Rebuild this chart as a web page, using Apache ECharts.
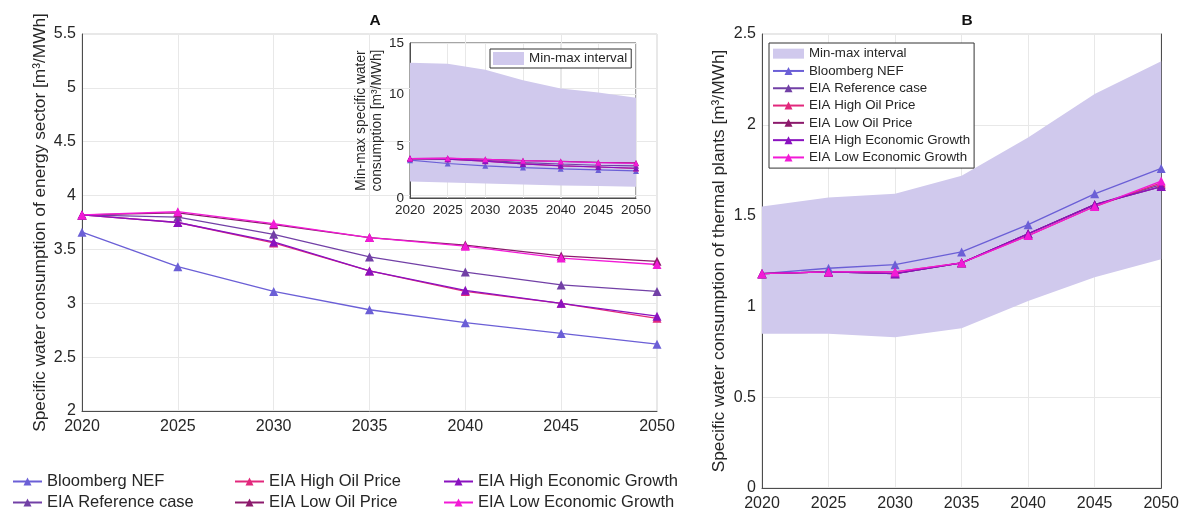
<!DOCTYPE html>
<html>
<head>
<meta charset="utf-8">
<script src="https://cdn.jsdelivr.net/npm/echarts@6/dist/echarts.min.js"></script>
<style>
  html, body { margin: 0; padding: 0; background: #fff; }
  #chart { width: 1182px; height: 515px; }
</style>
</head>
<body>
<div id="chart"></div>
<script>
// Projection years shared by every panel
const years = ['2020', '2025', '2030', '2035', '2040', '2045', '2050'];

// Panel A: specific water consumption of the energy sector [m3/MWh]
const energyBloomberg = [3.66, 3.34, 3.11, 2.94, 2.82, 2.72, 2.62];
const energyReference = [3.82, 3.80, 3.64, 3.43, 3.29, 3.17, 3.11];
const energyHighOil   = [3.82, 3.75, 3.56, 3.30, 3.11, 3.00, 2.86];
const energyLowOil    = [3.82, 3.84, 3.73, 3.61, 3.54, 3.44, 3.39];
const energyHighGrowth = [3.82, 3.75, 3.57, 3.30, 3.12, 3.00, 2.88];
const energyLowGrowth  = [3.82, 3.85, 3.74, 3.61, 3.53, 3.42, 3.36];
// Panel A inset: min-max interval of the energy sector
const energyMin = [1.6, 1.5, 1.4, 1.3, 1.2, 1.15, 1.1];
const energyMax = [13.1, 13.0, 12.4, 11.4, 10.6, 10.2, 9.7];

// Panel B: specific water consumption of thermal plants [m3/MWh]
const thermalBloomberg = [1.18, 1.21, 1.23, 1.30, 1.45, 1.62, 1.76];
const thermalReference = [1.18, 1.19, 1.18, 1.24, 1.40, 1.56, 1.67];
const thermalHighOil   = [1.18, 1.19, 1.19, 1.24, 1.39, 1.55, 1.68];
const thermalLowOil    = [1.18, 1.19, 1.18, 1.24, 1.40, 1.56, 1.66];
const thermalHighGrowth = [1.18, 1.19, 1.18, 1.24, 1.40, 1.56, 1.66];
const thermalLowGrowth  = [1.18, 1.19, 1.19, 1.24, 1.39, 1.55, 1.69];
const thermalMin = [0.85, 0.85, 0.83, 0.88, 1.03, 1.16, 1.26];
const thermalMax = [1.55, 1.60, 1.62, 1.72, 1.93, 2.17, 2.35];

// Axis ticks
const energyTicks = { min: 2, max: 5.5, interval: 0.5 };
const insetTicks = { min: 0, max: 15, interval: 5 };
const thermalTicks = { min: 0, max: 2.5, interval: 0.5 };

const scenarioNames = [
  'Bloomberg NEF', 'EIA Reference case', 'EIA High Oil Price',
  'EIA Low Oil Price', 'EIA High Economic Growth', 'EIA Low Economic Growth'
];
const scenarioColors = ['#6b5fd6', '#7240a6', '#e2287c', '#8c1a6c', '#8a12bf', '#f21ad6'];
const bandName = 'Min-max interval';
const bandColor = '#d0c9ed';

const energySets = [energyBloomberg, energyReference, energyHighOil, energyLowOil, energyHighGrowth, energyLowGrowth];
const thermalSets = [thermalBloomberg, thermalReference, thermalHighOil, thermalLowOil, thermalHighGrowth, thermalLowGrowth];

const FONT = 'Liberation Sans, Arial, sans-serif';
const TXT = '#262626';
const AXIS_DARK = '#4d4d4d';
const GRID_LIGHT = '#e8e8e8';

function scenarioLines(sets, gridIdx, symbolSize, width) {
  return sets.map((data, i) => ({
    type: 'line',
    name: scenarioNames[i],
    xAxisIndex: gridIdx,
    yAxisIndex: gridIdx,
    data: data,
    symbol: 'triangle',
    symbolSize: symbolSize,
    color: scenarioColors[i],
    lineStyle: { width: width, color: scenarioColors[i] },
    itemStyle: { color: scenarioColors[i] },
    emphasis: { disabled: true },
    animation: false,
    z: 3
  }));
}

function band(low, high, gridIdx, stackId) {
  return [
    {
      type: 'line', name: stackId + '-base', stack: stackId,
      xAxisIndex: gridIdx, yAxisIndex: gridIdx,
      data: low, symbol: 'none', lineStyle: { width: 0, opacity: 0 },
      silent: true, animation: false, z: 1
    },
    {
      type: 'line', name: bandName, stack: stackId,
      xAxisIndex: gridIdx, yAxisIndex: gridIdx,
      data: high.map((v, i) => +(v - low[i]).toFixed(3)),
      symbol: 'none', color: bandColor,
      itemStyle: { color: bandColor },
      lineStyle: { width: 0, opacity: 0 },
      areaStyle: { color: bandColor, opacity: 1 },
      silent: true, animation: false, z: 1
    }
  ];
}

function xAxisFor(gridIdx, fontSize, margin) {
  return {
    type: 'category', gridIndex: gridIdx, data: years, boundaryGap: false,
    axisLine: { show: true, lineStyle: { color: AXIS_DARK, width: 1 } },
    axisTick: { show: false },
    axisLabel: { color: TXT, fontFamily: FONT, fontSize: fontSize, margin: margin, interval: 0 },
    splitLine: { show: true, lineStyle: { color: GRID_LIGHT, width: 1 } }
  };
}

function yAxisFor(gridIdx, ticks, fontSize, name, nameGap, nameSize) {
  return {
    type: 'value', gridIndex: gridIdx,
    min: ticks.min, max: ticks.max, interval: ticks.interval,
    name: name, nameLocation: 'middle', nameGap: nameGap,
    nameTextStyle: { color: TXT, fontFamily: FONT, fontSize: nameSize, lineHeight: nameSize + 2 },
    axisLine: { show: true, lineStyle: { color: AXIS_DARK, width: 1 } },
    axisTick: { show: false },
    axisLabel: { color: TXT, fontFamily: FONT, fontSize: fontSize, margin: 6 },
    splitLine: { show: true, lineStyle: { color: GRID_LIGHT, width: 1 } }
  };
}

const chart = echarts.init(document.getElementById('chart'), null, { renderer: 'canvas' });

const lineLegend = (names, left, top) => ({
  left: left, top: top, orient: 'vertical',
  data: names, itemWidth: 29, itemHeight: 10, itemGap: 2,
  padding: 0, height: 45,
  textStyle: { color: TXT, fontFamily: FONT, fontSize: 16.5, lineHeight: 19 },
  selectedMode: false
});

chart.setOption({
  animation: false,
  backgroundColor: '#fff',
  title: [
    { text: 'A', left: 370, top: 8, textAlign: 'center',
      textStyle: { fontFamily: FONT, fontSize: 15.5, fontWeight: 'bold', color: '#111' } },
    { text: 'B', left: 962, top: 8, textAlign: 'center',
      textStyle: { fontFamily: FONT, fontSize: 15.5, fontWeight: 'bold', color: '#111' } }
  ],
  grid: [
    { left: 82, right: 525, top: 34, bottom: 104, show: true, borderColor: '#d0d0d0', borderWidth: 1 },
    { left: 410, right: 546, top: 43, bottom: 317, show: true, borderColor: AXIS_DARK, borderWidth: 1 },
    { left: 762, right: 20, top: 34, bottom: 27, show: true, borderColor: '#d0d0d0', borderWidth: 1 }
  ],
  xAxis: [
    xAxisFor(0, 16, 8),
    xAxisFor(1, 13.5, 5),
    xAxisFor(2, 16, 8)
  ],
  yAxis: [
    yAxisFor(0, energyTicks, 16, 'Specific water consumption of energy sector [m³/MWh]', 31, 17.3),
    yAxisFor(1, insetTicks, 13.5, 'Min-max specific water\nconsumption [m³/MWh]', 24, 13.8),
    yAxisFor(2, thermalTicks, 16, 'Specific water consumption of thermal plants [m³/MWh]', 33, 17.3),
    { type: 'value', gridIndex: 2, position: 'right', min: thermalTicks.min, max: thermalTicks.max,
      interval: thermalTicks.interval,
      axisLine: { show: true, onZero: false, lineStyle: { color: AXIS_DARK, width: 1 } },
      axisTick: { show: false }, axisLabel: { show: false }, splitLine: { show: false } }
  ],
  legend: [
    lineLegend([scenarioNames[0], scenarioNames[1]], 12, 472),
    lineLegend([scenarioNames[2], scenarioNames[3]], 234, 472),
    lineLegend([scenarioNames[4], scenarioNames[5]], 443, 472),
    {
      left: 490, top: 49, orient: 'vertical',
      data: [{ name: bandName, icon: 'rect' }],
      itemWidth: 31, itemHeight: 13,
      padding: [3, 4, 3, 3],
      borderColor: '#333', borderWidth: 1, backgroundColor: '#fff',
      textStyle: { color: TXT, fontFamily: FONT, fontSize: 13.4 },
      selectedMode: false
    },
    {
      left: 769, top: 43, orient: 'vertical',
      data: [{ name: bandName, icon: 'rect' }].concat(scenarioNames),
      itemWidth: 31, itemHeight: 10, itemGap: 2,
      padding: [3, 4, 3, 3],
      borderColor: '#333', borderWidth: 1, backgroundColor: '#fff',
      textStyle: { color: TXT, fontFamily: FONT, fontSize: 13.3, lineHeight: 15.3 },
      selectedMode: false
    }
  ],
  series: [].concat(
    scenarioLines(energySets, 0, 9, 1.3),
    band(energyMin, energyMax, 1, 'bandA'),
    scenarioLines(energySets, 1, 6, 1.2),
    band(thermalMin, thermalMax, 2, 'bandB'),
    scenarioLines(thermalSets, 2, 9, 1.3)
  )
});
</script>
</body>
</html>
